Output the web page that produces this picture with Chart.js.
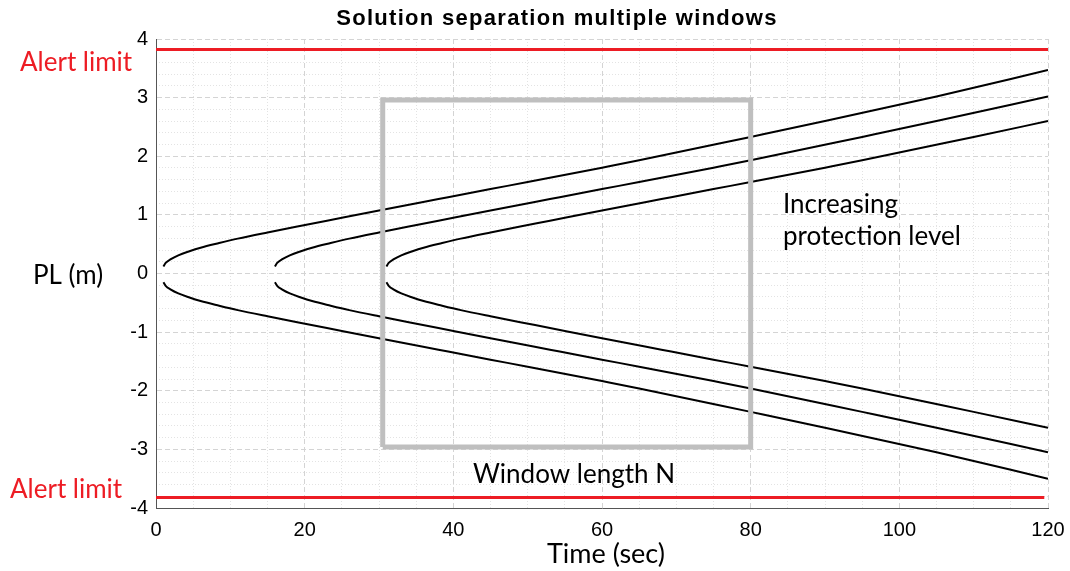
<!DOCTYPE html>
<html>
<head>
<meta charset="utf-8">
<script src="https://cdn.jsdelivr.net/npm/chart.js@4"></script>
<style>
  body { margin: 0; background: #fff; }
  canvas { display: block; }
</style>
</head>
<body>
<canvas id="chart" width="1070" height="571"></canvas>
<script>
// tick labels
var xTicks = [0, 20, 40, 60, 80, 100, 120]
var yTicks = [-4, -3, -2, -1, 0, 1, 2, 3, 4]

// window 1 (starts near t = 1)
var w1Time  = [1, 1.3, 2, 3, 4.5, 6, 8.5, 11, 15, 19, 23, 30, 38, 45, 50, 60, 65, 80, 90, 105, 120]
var w1Upper = [0.12, 0.18, 0.245, 0.31, 0.38, 0.44, 0.52, 0.595, 0.70, 0.80, 0.90, 1.075, 1.27, 1.44, 1.56, 1.805, 1.93, 2.33, 2.60, 3.02, 3.47]
var w1Lower = [-0.15, -0.21, -0.275, -0.34, -0.41, -0.47, -0.55, -0.625, -0.73, -0.83, -0.93, -1.105, -1.30, -1.47, -1.59, -1.835, -1.96, -2.36, -2.63, -3.05, -3.50]

// window 2 (starts near t = 16)
var w2Time  = [16, 16.3, 17, 18, 19.5, 21, 23.5, 26, 30, 34, 38, 45, 53, 60, 65, 75, 80, 95, 105, 120]
var w2Upper = [0.12, 0.18, 0.245, 0.31, 0.38, 0.44, 0.52, 0.595, 0.70, 0.80, 0.90, 1.075, 1.27, 1.44, 1.56, 1.805, 1.93, 2.33, 2.60, 3.02]
var w2Lower = [-0.15, -0.21, -0.275, -0.34, -0.41, -0.47, -0.55, -0.625, -0.73, -0.83, -0.93, -1.105, -1.30, -1.47, -1.59, -1.835, -1.96, -2.36, -2.63, -3.05]

// window 3 (starts near t = 31)
var w3Time  = [31, 31.3, 32, 33, 34.5, 36, 38.5, 41, 45, 49, 53, 60, 68, 75, 80, 90, 95, 110, 120]
var w3Upper = [0.12, 0.18, 0.245, 0.31, 0.38, 0.44, 0.52, 0.595, 0.70, 0.80, 0.90, 1.075, 1.27, 1.44, 1.56, 1.805, 1.93, 2.33, 2.60]
var w3Lower = [-0.15, -0.21, -0.275, -0.34, -0.41, -0.47, -0.55, -0.625, -0.73, -0.83, -0.93, -1.105, -1.30, -1.47, -1.59, -1.835, -1.96, -2.36, -2.63]

// alert limit and window box
var alertLimit = 3.82
var alertUpperX = [0, 120]
var alertLowerX = [0, 119.5]
var boxX = [30.5, 30.5, 80, 80, 30.5]
var boxY = [-2.96, 2.96, 2.96, -2.96, -2.96]

function pts(xs, ys) {
  var out = []
  for (var i = 0; i < xs.length; i++) {
    out.push({ x: xs[i], y: ys[i] })
  }
  return out
}

function curve(xs, ys) {
  return {
    data: pts(xs, ys),
    borderColor: '#000000',
    borderWidth: 2,
    pointRadius: 0,
    cubicInterpolationMode: 'monotone',
    fill: false
  }
}

var datasets = [
  {
    data: pts(boxX, boxY),
    borderColor: '#bfbfbf',
    borderWidth: 5,
    pointRadius: 0,
    tension: 0,
    borderJoinStyle: 'miter',
    fill: false
  },
  curve(w1Time, w1Upper),
  curve(w1Time, w1Lower),
  curve(w2Time, w2Upper),
  curve(w2Time, w2Lower),
  curve(w3Time, w3Upper),
  curve(w3Time, w3Lower),
  {
    data: pts(alertUpperX, [alertLimit, alertLimit]),
    borderColor: '#ed1c24',
    borderWidth: 3,
    pointRadius: 0,
    fill: false
  },
  {
    data: pts(alertLowerX, [-alertLimit, -alertLimit]),
    borderColor: '#ed1c24',
    borderWidth: 3,
    pointRadius: 0,
    fill: false
  }
]

// text drawn on top of the chart
var labelsPlugin = {
  id: 'labels',
  afterDraw: function (chart) {
    var ctx = chart.ctx
    ctx.save()
    ctx.textBaseline = 'alphabetic'

    ctx.fillStyle = '#000'
    ctx.textAlign = 'center'
    ctx.font = 'bold 22px "Liberation Sans", Arial, sans-serif'
    ctx.letterSpacing = '1.3px'
    ctx.fillText('Solution separation multiple windows', 557, 25)
    ctx.letterSpacing = '0px'

    ctx.textAlign = 'left'
    ctx.font = '26px Lato, "Open Sans", sans-serif'
    ctx.fillStyle = '#ed1c24'
    ctx.fillText('Alert limit', 20, 71)
    ctx.fillText('Alert limit', 10, 498)

    ctx.fillStyle = '#000'
    ctx.fillText('PL (m)', 33, 284)
    ctx.fillText('Increasing', 783, 213)
    ctx.fillText('protection level', 783, 245)
    ctx.fillText('Window length N', 473, 483)
    ctx.font = '27px Lato, "Open Sans", sans-serif'
    ctx.fillText('Time (sec)', 547, 563)
    ctx.restore()
  }
}

var tickFont = { family: '"Liberation Sans", Arial, sans-serif', size: 20 }

new Chart(document.getElementById('chart'), {
  type: 'line',
  data: { datasets: datasets },
  plugins: [labelsPlugin],
  options: {
    responsive: false,
    animation: false,
    devicePixelRatio: 1,
    layout: { padding: { top: 39, right: 22, left: 0, bottom: 0 } },
    plugins: {
      legend: { display: false },
      tooltip: { enabled: false }
    },
    scales: {
      xm: {
        type: 'linear',
        position: 'bottom',
        min: 0,
        max: 120,
        ticks: { display: false, stepSize: 5 },
        grid: {
          z: -2,
          drawTicks: false,
          color: function (c) { return c.tick && c.tick.value % 20 === 0 ? 'rgba(0,0,0,0)' : '#e3e3e3' }
        },
        border: { display: false, dash: [1, 2] },
        afterFit: function (s) { s.height = 0; s.paddingLeft = 0; s.paddingRight = 0 }
      },
      ym: {
        type: 'linear',
        position: 'left',
        min: -4,
        max: 4,
        ticks: { display: false, stepSize: 0.2 },
        grid: {
          z: -2,
          drawTicks: false,
          color: function (c) {
            var v = c.tick ? Math.round(c.tick.value * 10) / 10 : 0
            return Math.abs(v - Math.round(v)) < 0.01 ? 'rgba(0,0,0,0)' : '#e3e3e3'
          }
        },
        border: { display: false, dash: [1, 2] },
        afterFit: function (s) { s.width = 0; s.paddingTop = 0; s.paddingBottom = 0 }
      },
      x: {
        type: 'linear',
        position: 'bottom',
        min: 0,
        max: 120,
        afterBuildTicks: function (s) { s.ticks = xTicks.map(function (v) { return { value: v } }) },
        ticks: { font: tickFont, color: '#000', padding: 10, maxRotation: 0,
          callback: function (v) { return String(v) } },
        grid: { z: -1, drawTicks: false, color: '#d4d4d4' },
        border: { display: true, color: '#555', width: 1, dash: [5, 3] },
        afterFit: function (s) { s.height = 63; s.paddingLeft = 0; s.paddingRight = 0 }
      },
      y: {
        type: 'linear',
        position: 'left',
        min: -4,
        max: 4,
        afterBuildTicks: function (s) { s.ticks = yTicks.map(function (v) { return { value: v } }) },
        ticks: { font: tickFont, color: '#000', padding: 8,
          callback: function (v) { return String(v) } },
        grid: { z: -1, drawTicks: false, color: '#d4d4d4' },
        border: { display: true, color: '#555', width: 1, dash: [5, 3] },
        afterFit: function (s) { s.width = 156; s.paddingTop = 0; s.paddingBottom = 0 }
      }
    }
  }
})
</script>
</body>
</html>
